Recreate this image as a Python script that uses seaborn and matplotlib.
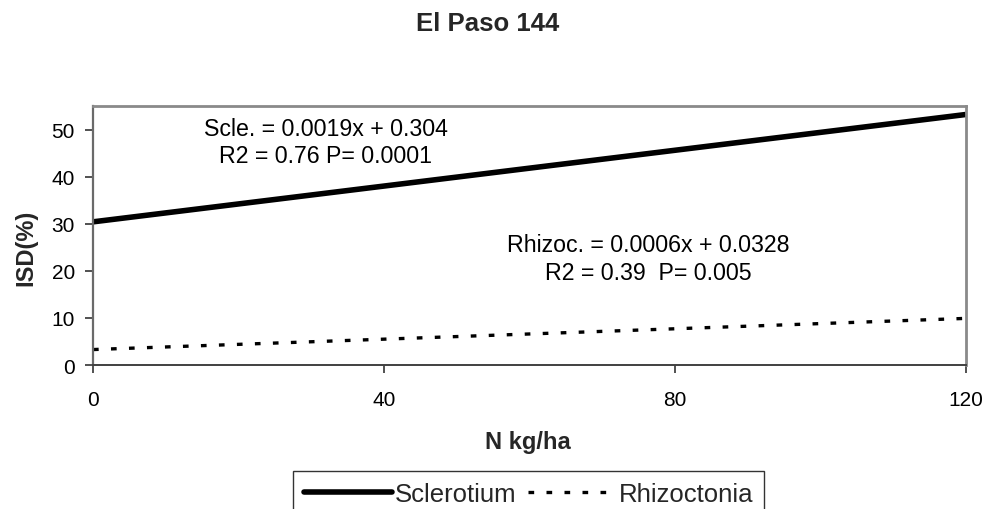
import matplotlib
matplotlib.use("Agg")
import matplotlib.pyplot as plt
import seaborn as sns
import pandas as pd
from matplotlib.lines import Line2D

# Fitted disease-severity lines against nitrogen rate
n_rate = [0, 120]
sclerotium = [30.4, 53.2]
rhizoctonia = [3.28, 9.9]

x_ticks = [0, 40, 80, 120]
y_ticks = [0, 10, 20, 30, 40, 50]

title = "El Paso 144"
x_label = "N kg/ha"
y_label = "ISD(%)"
scle_eq = "Scle. = 0.0019x + 0.304"
scle_stats = "R2 = 0.76 P= 0.0001"
rhizo_eq = "Rhizoc. = 0.0006x + 0.0328"
rhizo_stats = "R2 = 0.39  P= 0.005"

df = pd.DataFrame({
    "N": n_rate * 2,
    "ISD": sclerotium + rhizoctonia,
    "Pathogen": ["Sclerotium"] * 2 + ["Rhizoctonia"] * 2,
})

sns.set_style("white")
plt.rcParams["font.family"] = ["Liberation Sans", "DejaVu Sans"]

W, H = 989, 510
fig = plt.figure(figsize=(W / 100, H / 100), dpi=100)
L, R, T, B = 93, 966, 107, 366
ax = fig.add_axes([L / W, 1 - B / H, (R - L) / W, (B - T) / H])

solid_lw = 4.0
dash_lw = 2.4
dash_style = (0, (1.7, 3.7))

sns.lineplot(data=df[df.Pathogen == "Sclerotium"], x="N", y="ISD", ax=ax,
             color="black", linewidth=solid_lw, legend=False)
sns.lineplot(data=df[df.Pathogen == "Rhizoctonia"], x="N", y="ISD", ax=ax,
             color="black", linewidth=dash_lw, legend=False)
ax.lines[0].set_solid_capstyle("butt")
ax.lines[1].set_linestyle(dash_style)
ax.lines[1].set_dash_capstyle("butt")

ax.set_xlim(0, 120)
ax.set_ylim(0, 55)
ax.set_xticks(x_ticks)
ax.set_yticks(y_ticks)
ax.set_xlabel("")
ax.set_ylabel("")
ax.tick_params(axis="both", direction="out", length=6, width=1.2,
               color="#333333", labelsize=15, labelcolor="black",
               left=True, bottom=True)
ax.tick_params(axis="x", pad=12)
ax.tick_params(axis="y", pad=7)

ax.spines["left"].set_color("#6a6a6a")
ax.spines["left"].set_linewidth(1.6)
ax.spines["bottom"].set_color("#404040")
ax.spines["bottom"].set_linewidth(1.4)
for side in ("top", "right"):
    ax.spines[side].set_color("#8a8a8a")
    ax.spines[side].set_linewidth(2.0)

txt = dict(fontsize=16.7, ha="center", va="center", color="black")
ax.text(32.0, 50.3, scle_eq, **txt)
ax.text(32.0, 44.5, scle_stats, **txt)
ax.text(76.3, 25.6, rhizo_eq, **txt)
ax.text(76.3, 19.7, rhizo_stats, **txt)

fig.text(488 / W, 1 - 24 / H, title, ha="center", va="center",
         fontsize=18.5, fontweight="bold")
fig.text(528 / W, 1 - 443 / H, x_label, ha="center", va="center",
         fontsize=17, fontweight="bold")
fig.text(26 / W, 1 - 248 / H, y_label, ha="center", va="center",
         fontsize=17, fontweight="bold", rotation=90)

handles = [
    Line2D([], [], color="black", linewidth=solid_lw, solid_capstyle="round"),
    Line2D([], [], color="black", linewidth=dash_lw, linestyle=dash_style,
           dash_capstyle="butt"),
]
leg = fig.legend(handles, ["Sclerotium", "Rhizoctonia"], loc="upper left",
                 bbox_to_anchor=(293 / W, 1 - 472 / H), ncol=2, frameon=True,
                 fancybox=False, edgecolor="black", fontsize=18.5,
                 handlelength=3.42, handletextpad=0.12, columnspacing=0.45,
                 borderpad=0.42, borderaxespad=0)
leg.get_frame().set_linewidth(1.0)

fig.savefig("out.png", dpi=100)
